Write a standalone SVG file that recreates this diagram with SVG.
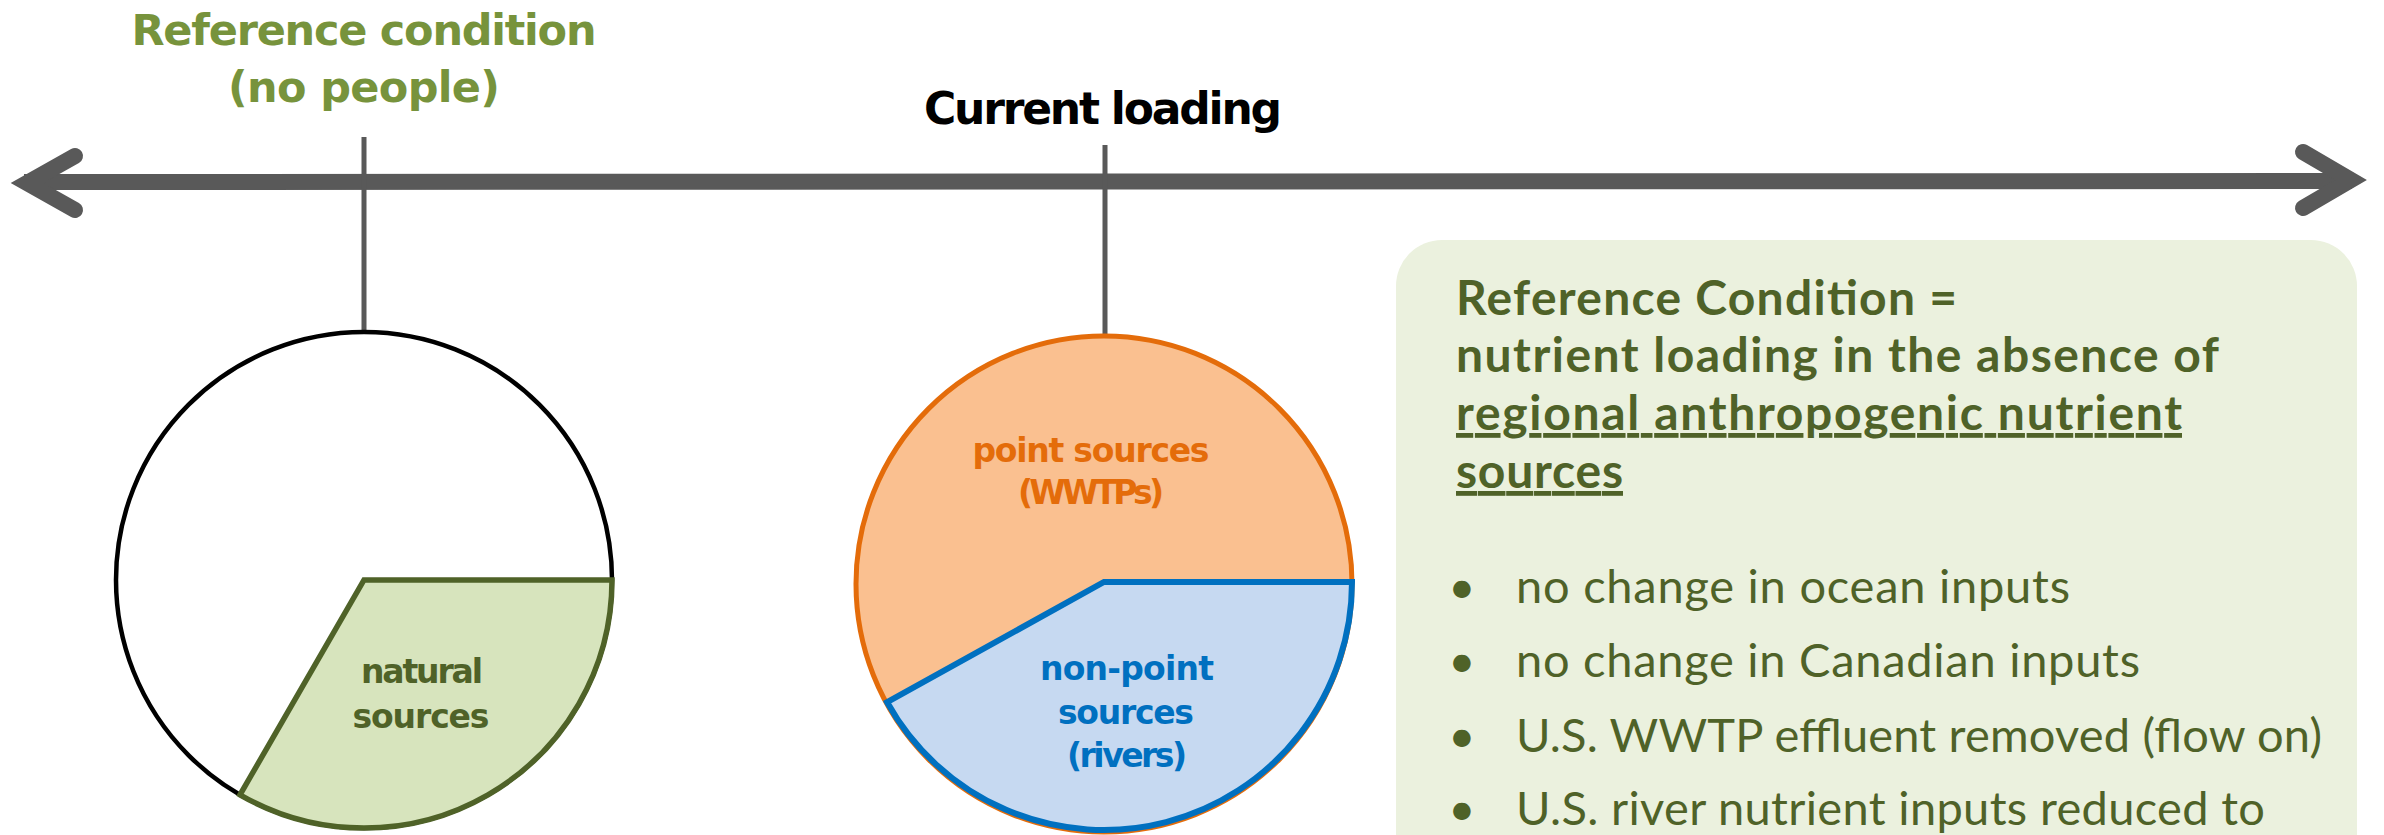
<svg xmlns="http://www.w3.org/2000/svg" width="2384" height="835" viewBox="0 0 2384 835">
<style>
.axis{stroke:#595959;fill:none;stroke-width:16}
.tick{stroke:#595959;stroke-width:5}
.gothic{font-family:"DejaVu Sans","Liberation Sans",sans-serif;font-weight:bold;text-anchor:middle}
.box{font-family:Lato,"Liberation Sans",sans-serif;fill:#4F6228}
.hdr{font-weight:bold;font-size:48px}
.bul{font-size:47px}
</style>
<rect width="2384" height="835" fill="#FFFFFF"/>
<g id="connectors">
<line class="axis" x1="24" y1="182" x2="2352" y2="181"/>
<polyline class="axis" points="75,156 27,183 75,210" stroke-linecap="round" stroke-linejoin="miter"/>
<polyline class="axis" points="2303,152 2351,180 2303,208" stroke-linecap="round" stroke-linejoin="miter"/>
<line class="tick" x1="364" y1="137" x2="364" y2="331"/>
<line class="tick" x1="1105" y1="145" x2="1105" y2="336"/>
</g>
<g id="title-reference">
<text class="gothic" x="364" y="45" font-size="43" fill="#77933C" textLength="465">Reference condition</text>
<text class="gothic" x="364" y="102" font-size="43" fill="#77933C" textLength="272">(no people)</text>
</g>
<g id="title-current">
<text class="gothic" x="1103" y="124" font-size="44" fill="#000000" textLength="358" style="font-weight:600">Current loading</text>
</g>
<g id="pie-reference">
<circle cx="364" cy="580" r="248" fill="#FFFFFF" stroke="#000000" stroke-width="4.5"/>
<path d="M364,580 L612,580 A248,248 0 0,1 240,794.8 Z" fill="#D7E4BD" stroke="#4F6228" stroke-width="5.5" stroke-linejoin="miter"/>
<text class="gothic" x="422" y="683" font-size="33" fill="#4F6228" textLength="122">natural</text>
<text class="gothic" x="421" y="728" font-size="33" fill="#4F6228" textLength="137">sources</text>
</g>
<g id="pie-current">
<circle cx="1104" cy="584" r="248" fill="#FAC090" stroke="#E46C0A" stroke-width="5"/>
<path d="M1104,582 L1352,582 A248,248 0 0,1 887.1,702.2 Z" fill="#C6D9F1" stroke="#0070C0" stroke-width="6"/>
<text class="gothic" x="1091" y="462" font-size="33" fill="#E46C0A" textLength="237">point sources</text>
<text class="gothic" x="1091" y="504" font-size="33" fill="#E46C0A" textLength="146">(WWTPs)</text>
<text class="gothic" x="1127" y="680" font-size="33" fill="#0070C0" textLength="174">non-point</text>
<text class="gothic" x="1126" y="724" font-size="33" fill="#0070C0" textLength="136">sources</text>
<text class="gothic" x="1127" y="767" font-size="33" fill="#0070C0" textLength="120">(rivers)</text>
</g>
<g id="definition-box">
<rect x="1396" y="240" width="961" height="700" rx="46" ry="46" fill="#EBF1DE"/>
<text class="box hdr" x="1456" y="315" textLength="501">Reference Condition =</text>
<text class="box hdr" x="1456" y="372" textLength="763">nutrient loading in the absence of</text>
<text class="box hdr" x="1456" y="430" textLength="726" text-decoration="underline">regional anthropogenic nutrient</text>
<text class="box hdr" x="1456" y="488" textLength="167" text-decoration="underline">sources</text>
<text class="box bul" x="1462" y="603" text-anchor="middle">•</text>
<text class="box bul" x="1516" y="603" textLength="554">no change in ocean inputs</text>
<text class="box bul" x="1462" y="677" text-anchor="middle">•</text>
<text class="box bul" x="1516" y="677" textLength="624">no change in Canadian inputs</text>
<text class="box bul" x="1462" y="752" text-anchor="middle">•</text>
<text class="box bul" x="1516" y="752" textLength="806">U.S. WWTP effluent removed (flow on)</text>
<text class="box bul" x="1462" y="825" text-anchor="middle">•</text>
<text class="box bul" x="1516" y="825" textLength="749">U.S. river nutrient inputs reduced to</text>
</g>
</svg>
